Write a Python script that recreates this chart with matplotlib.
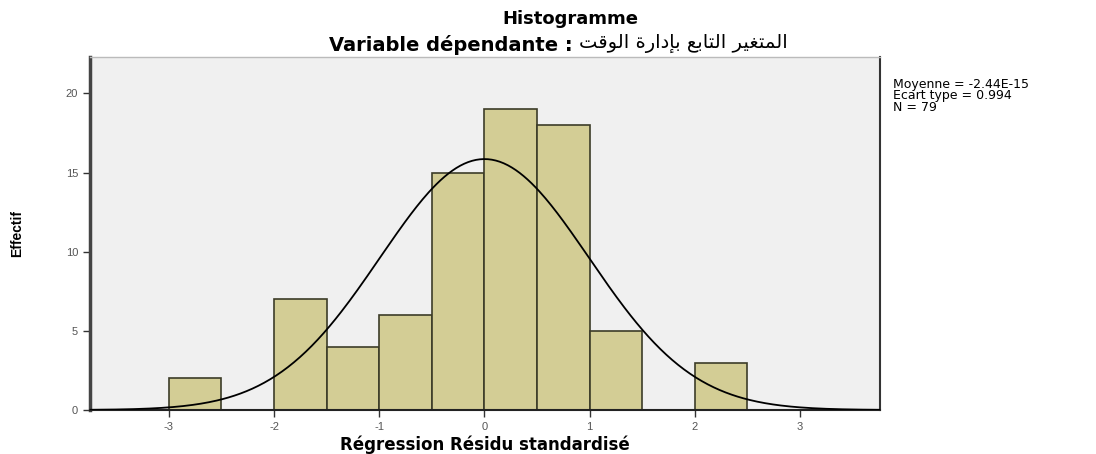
import numpy as np
import matplotlib.pyplot as plt

# histogram of standardized residuals (bin width 0.5)
bin_left = [-3.0, -2.0, -1.5, -1.0, -0.5, 0.0, 0.5, 1.0, 2.0]
counts = [2, 7, 4, 6, 15, 19, 18, 5, 3]
bin_width = 0.5

mean = -2.44e-15
std = 0.994
n = 79

xticks = [-3, -2, -1, 0, 1, 2, 3]
yticks = [0, 5, 10, 15, 20]

stats_lines = ["Moyenne = -2.44E-15", "Ecart type = 0.994", "N = 79"]

# arabic part written in visual order with presentation forms (no bidi in matplotlib)
arabic_dv = ("\uFE96\uFED7\uFEEE\uFEDF\uFE8D \uFE93\uFEAD\uFE8D\uFEA9\uFE88\uFE91 "
             "\uFECA\uFE91\uFE8E\uFE98\uFEDF\uFE8D \uFEAE\uFEF4\uFED0\uFE98\uFEE4\uFEDF\uFE8D")

plt.rcParams['font.family'] = ['Liberation Sans', 'DejaVu Sans']

fig = plt.figure(figsize=(10.96, 4.54), dpi=100)
ax = fig.add_axes([0.0821, 0.0969, 0.7208, 0.7775])
ax.set_facecolor('#f0f0f0')

ax.bar(bin_left, counts, width=bin_width, align='edge', color='#d3cd95',
       edgecolor='#3c3c28', linewidth=1.2, zorder=2)

xs = np.linspace(-3.75, 3.76, 400)
pdf = np.exp(-0.5 * ((xs - mean) / std) ** 2) / (std * np.sqrt(2 * np.pi))
ax.plot(xs, n * bin_width * pdf, color='black', lw=1.3, zorder=3)

ax.set_xlim(-3.75, 3.76)
ax.set_ylim(0, 22.3)
ax.set_xticks(xticks)
ax.set_xticklabels([str(v) for v in xticks])
ax.set_yticks(yticks)
ax.set_yticklabels([str(v) for v in yticks])
ax.tick_params(axis='both', labelsize=8, labelcolor='#555555', length=5,
               width=1, direction='out', color='#333333')

ax.spines['left'].set_linewidth(2.5)
ax.spines['left'].set_color('#444444')
ax.spines['bottom'].set_linewidth(1.5)
ax.spines['bottom'].set_color('#222222')
ax.spines['right'].set_linewidth(1.5)
ax.spines['right'].set_color('#333333')
ax.spines['top'].set_linewidth(1.0)
ax.spines['top'].set_color('#bbbbbb')

ax.set_xlabel("Régression Résidu standardisé", fontsize=12, fontweight='bold',
              family=['DejaVu Sans'], labelpad=3)
ax.set_ylabel("Effectif", fontsize=10, fontweight='bold', labelpad=30)

fig.text(0.52, 0.958, "Histogramme", ha='center', va='center', fontsize=13,
         fontweight='bold', family=['DejaVu Sans'])
t1 = fig.text(0.300, 0.900, "Variable dépendante : ", ha='left', va='center',
              fontsize=14, fontweight='bold', family=['DejaVu Sans'])
ax.annotate(arabic_dv, xy=(1, 0.1), xycoords=t1, ha='left', va='bottom',
            fontsize=14, family=['DejaVu Sans'], annotation_clip=False)

for i, line in enumerate(stats_lines):
    fig.text(0.815, 0.828 - i * 0.025, line, ha='left', va='top', fontsize=9,
             family=['DejaVu Sans'])

plt.savefig("out.png", dpi=100)
